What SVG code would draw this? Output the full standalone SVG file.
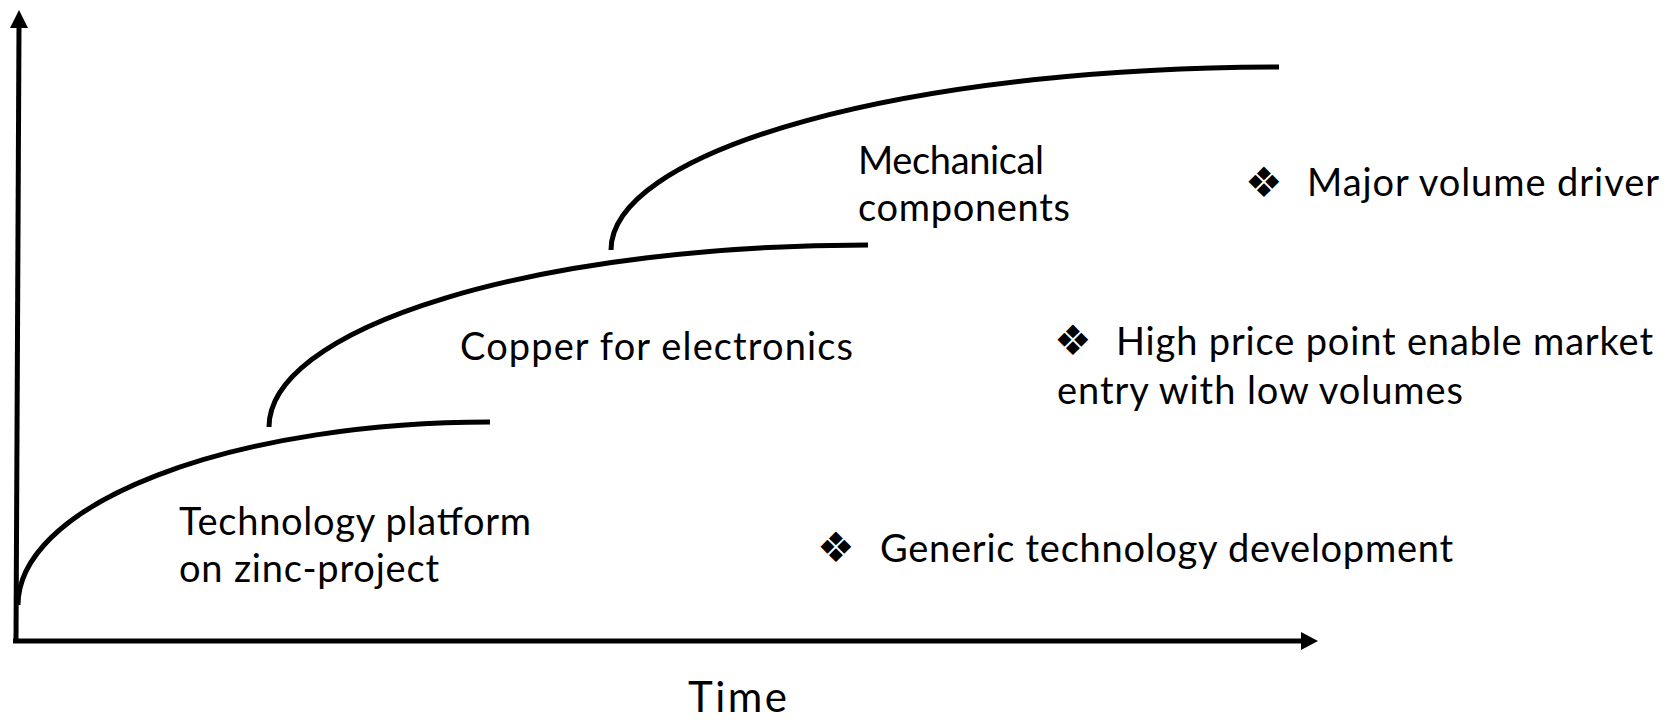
<svg xmlns="http://www.w3.org/2000/svg" width="1678" height="720" viewBox="0 0 1678 720">
<style>
.t{font-family:"Lato","Open Sans",sans-serif;font-size:38px;fill:#000}
.b{font-family:"DejaVu Sans",sans-serif;font-size:42px;fill:#000}
.c{fill:none;stroke:#000;stroke-width:5}
.ax{fill:none;stroke:#000;stroke-width:5}
</style>
<rect width="1678" height="720" fill="#fff"/>
<g id="axes">
<line class="ax" x1="16" y1="641" x2="19" y2="26"/>
<polygon points="19,10 10,28 28,28" fill="#000"/>
<line class="ax" x1="13" y1="641" x2="1303" y2="641"/>
<polygon points="1318,641 1301,632 1301,650" fill="#000"/>
</g>
<g id="connectors">
<path class="c" d="M18,605 A472,183 0 0 1 490,422"/>
<path class="c" d="M269,427 A599,182 0 0 1 868,245"/>
<path class="c" d="M611,250 A668,183 0 0 1 1279,67"/>
</g>
<g id="zinc">
<text class="t" x="179" y="535" textLength="352">Technology platform</text>
<text class="t" x="179" y="582" textLength="260">on zinc-project</text>
</g>
<g id="copper">
<text class="t" x="460" y="360" textLength="393">Copper for electronics</text>
</g>
<g id="mechanical">
<text class="t" x="858" y="174" textLength="186">Mechanical</text>
<text class="t" x="858" y="221" textLength="212">components</text>
</g>
<g id="major">
<text class="b" x="1245" y="197">❖</text>
<text class="t" x="1307" y="196" textLength="352">Major volume driver</text>
</g>
<g id="highprice">
<text class="b" x="1054" y="355">❖</text>
<text class="t" x="1116" y="355" textLength="537">High price point enable market</text>
<text class="t" x="1057" y="404" textLength="406">entry with low volumes</text>
</g>
<g id="generic">
<text class="b" x="817" y="562">❖</text>
<text class="t" x="880" y="562" textLength="573">Generic technology development</text>
</g>
<g id="time">
<text class="t" x="688" y="712" style="font-size:42px" textLength="99">Time</text>
</g>
</svg>
